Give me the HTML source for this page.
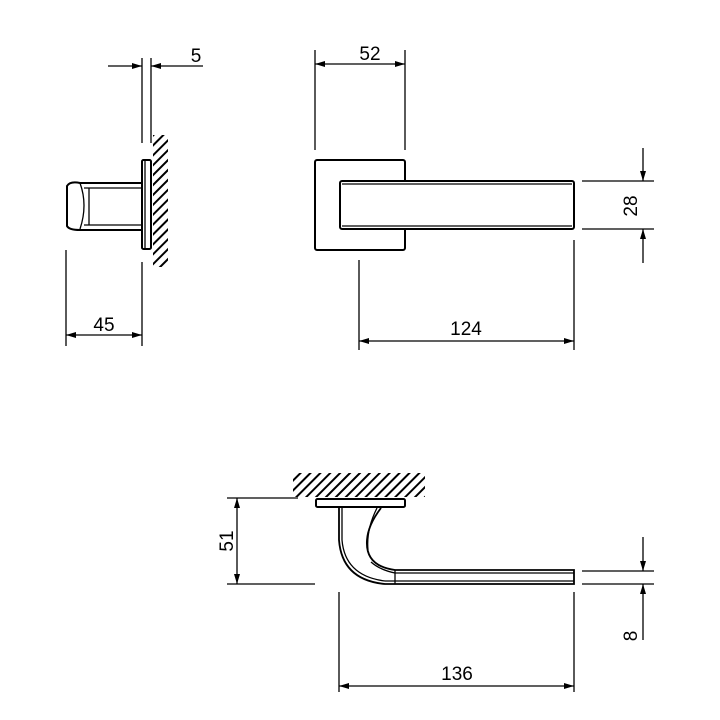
<!DOCTYPE html>
<html><head><meta charset="utf-8"><style>
html,body{margin:0;padding:0;background:#fff;}
svg{display:block;}
text{font-family:"Liberation Sans",sans-serif;font-size:19px;fill:#000;}
</style></head><body>
<svg width="720" height="720" viewBox="0 0 720 720" xmlns="http://www.w3.org/2000/svg">
<defs>
<pattern id="h" patternUnits="userSpaceOnUse" width="7" height="7" patternTransform="rotate(45)">
<line x1="1" y1="0" x2="1" y2="7" stroke="#000" stroke-width="2"/>
</pattern>
<marker id="a" viewBox="0 0 10 6" refX="10" refY="3" markerWidth="16" markerHeight="6" markerUnits="userSpaceOnUse" orient="auto-start-reverse"><path d="M0,0L10,3L0,6z" fill="#000"/></marker>
</defs>
<g fill="none" stroke="#000" stroke-width="1.3">
<rect x="153" y="135" width="15" height="132" fill="url(#h)" stroke="none"/>
<line x1="142" y1="58" x2="142" y2="143"/>
<line x1="151" y1="58" x2="151" y2="143"/>
<rect x="142" y="160" width="9" height="89" rx="1.5" stroke-width="2"/>
<line x1="145" y1="161" x2="145" y2="248"/>
<path d="M142,183 H80 Q70,181 67,186 V226 Q69,230 80,230 H142" stroke-width="2"/>
<path d="M80,183 Q88,205 80,229"/>
<line x1="89" y1="188" x2="89" y2="225"/>
<line x1="84" y1="188" x2="142" y2="188"/>
<line x1="84" y1="225" x2="142" y2="225"/>
<line x1="66" y1="250" x2="66" y2="346"/>
<line x1="142" y1="262" x2="142" y2="346"/>
<line x1="66" y1="335" x2="142" y2="335" marker-start="url(#a)" marker-end="url(#a)"/>
<line x1="108" y1="66" x2="142" y2="66" marker-end="url(#a)"/>
<line x1="203" y1="66" x2="151" y2="66" marker-end="url(#a)"/>

<rect x="315" y="160" width="90" height="90" rx="2" stroke-width="2"/>
<rect x="340" y="181" width="234" height="48" rx="2" fill="#fff" stroke-width="2"/>
<line x1="342" y1="184" x2="572" y2="184"/>
<line x1="342" y1="226" x2="572" y2="226"/>
<line x1="315" y1="50" x2="315" y2="150"/>
<line x1="405" y1="50" x2="405" y2="150"/>
<line x1="315" y1="64" x2="405" y2="64" marker-start="url(#a)" marker-end="url(#a)"/>
<line x1="582" y1="181" x2="654" y2="181"/>
<line x1="582" y1="229" x2="654" y2="229"/>
<line x1="643" y1="148" x2="643" y2="181" marker-end="url(#a)"/>
<line x1="643" y1="263" x2="643" y2="229" marker-end="url(#a)"/>
<line x1="359" y1="260" x2="359" y2="350"/>
<line x1="574" y1="240" x2="574" y2="350"/>
<line x1="359" y1="341" x2="574" y2="341" marker-start="url(#a)" marker-end="url(#a)"/>

<rect x="293" y="473" width="132" height="24" fill="url(#h)" stroke="none"/>
<rect x="316" y="499" width="89" height="8" rx="1.5" stroke-width="2"/>
<path d="M339,508 V540 Q342,580 385,584 H574 V570 H395 Q365,566 367,540 Q368,525 381,508" stroke-width="1.8"/>
<path d="M342,508 V540 Q345,576 385,581"/>
<path d="M377,508 Q366,530 368,550"/>
<path d="M371,562 Q380,570 395,573"/>
<line x1="395" y1="570" x2="395" y2="584"/>
<line x1="385" y1="581" x2="574" y2="581"/>
<line x1="395" y1="573" x2="574" y2="573"/>
<line x1="227" y1="498" x2="298" y2="498"/>
<line x1="227" y1="584" x2="315" y2="584"/>
<line x1="237" y1="498" x2="237" y2="584" marker-start="url(#a)" marker-end="url(#a)"/>
<line x1="582" y1="571" x2="654" y2="571"/>
<line x1="582" y1="584" x2="654" y2="584"/>
<line x1="643" y1="537" x2="643" y2="571" marker-end="url(#a)"/>
<line x1="643" y1="640" x2="643" y2="584" marker-end="url(#a)"/>
<line x1="339" y1="592" x2="339" y2="692"/>
<line x1="574" y1="592" x2="574" y2="692"/>
<line x1="339" y1="686" x2="574" y2="686" marker-start="url(#a)" marker-end="url(#a)"/>
</g>
<text x="196" y="62" text-anchor="middle">5</text>
<text x="104" y="331" text-anchor="middle">45</text>
<text x="370" y="60" text-anchor="middle">52</text>
<text x="466" y="335" text-anchor="middle">124</text>
<text transform="translate(637,206) rotate(-90)" text-anchor="middle">28</text>
<text transform="translate(233,541) rotate(-90)" text-anchor="middle">51</text>
<text transform="translate(637,636) rotate(-90)" text-anchor="middle">8</text>
<text x="457" y="680" text-anchor="middle">136</text>
</svg>
</body></html>
